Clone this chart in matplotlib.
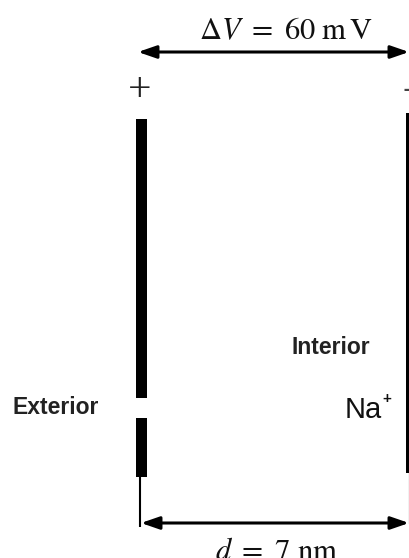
import matplotlib.pyplot as plt
from matplotlib.patches import Rectangle

plt.rcParams['mathtext.fontset'] = 'stix'

# values shown on the diagram
delta_v_mv = 60        # membrane potential
thickness_nm = 7       # membrane thickness
side_labels = ['Exterior', 'Interior']
ion_label = 'Na'

# canvas: x in nm (left plate at 0, right plate at d), y in pixels from the top
W, H = 410, 558
px_per_nm = 267 / thickness_nm
x0_px = 141

fig = plt.figure(figsize=(W / 100, H / 100), dpi=100)
ax = fig.add_axes([0, 0, 1, 1])
ax.set_xlim(-x0_px / px_per_nm, (W - x0_px) / px_per_nm)
ax.set_ylim(H, 0)
ax.axis('off')

d = thickness_nm
px = 1 / px_per_nm  # one pixel in nm

# left plate (thick, with a gap = channel)
ax.add_patch(Rectangle((-5 * px, 119), 11 * px, 279, color='black', lw=0))
ax.add_patch(Rectangle((-5 * px, 418), 11 * px, 59, color='black', lw=0))
ax.plot([-1 * px, -1 * px], [477, 527], color='black', lw=1.5, solid_capstyle='butt')

# right plate
ax.add_patch(Rectangle((d - 2 * px, 113), 4 * px, 360, color='black', lw=0))
ax.plot([d + 1 * px, d + 1 * px], [473, 523], color='black', lw=0.8)

# arrows
arrow = dict(arrowstyle='<|-|>,head_length=1.1,head_width=0.38', lw=2.2,
             color='black', shrinkA=0, shrinkB=0, mutation_scale=10)
ax.annotate('', xy=(d + 1 * px, 52), xytext=(-3 * px, 52), arrowprops=arrow)
ax.annotate('', xy=(d + 1 * px, 523), xytext=(0, 523), arrowprops=arrow)

# labels
ax.text(d / 2 + 0.3, 39, r'$\Delta V\ =\ %d\ \mathrm{m\,V}$' % delta_v_mv,
        ha='center', va='baseline', fontsize=22, color='#111111')
ax.text(d / 2 + 0.05, 560, r'$d\ =\ %d\ \mathrm{nm}$' % thickness_nm,
        ha='center', va='baseline', fontsize=22, color='#111111')
ax.text(-1 * px, 91, '+', ha='center', va='center', fontsize=30,
        family='Liberation Serif', color='#222222')
ax.text(d - 5 * px, 92, '\u2212', ha='left', va='center', fontsize=22,
        family='Liberation Sans', color='#444444')

ax.text(-x0_px / px_per_nm + 12 * px, 408, side_labels[0], ha='left', va='center',
        fontsize=16.5, fontweight='bold', family='Liberation Sans', color='#222222')
ax.text(d - 38 * px, 347, side_labels[1], ha='right', va='center',
        fontsize=16.5, fontweight='bold', family='Liberation Sans', color='#222222')
ax.text(d - 26 * px, 410, ion_label, ha='right', va='center',
        fontsize=21, fontweight='medium', family='Liberation Sans', color='#111111')
ax.text(d - 21 * px, 399, '+', ha='center', va='center',
        fontsize=11, fontweight='bold', family='Liberation Sans', color='#111111')

fig.savefig('out.png', dpi=100)
